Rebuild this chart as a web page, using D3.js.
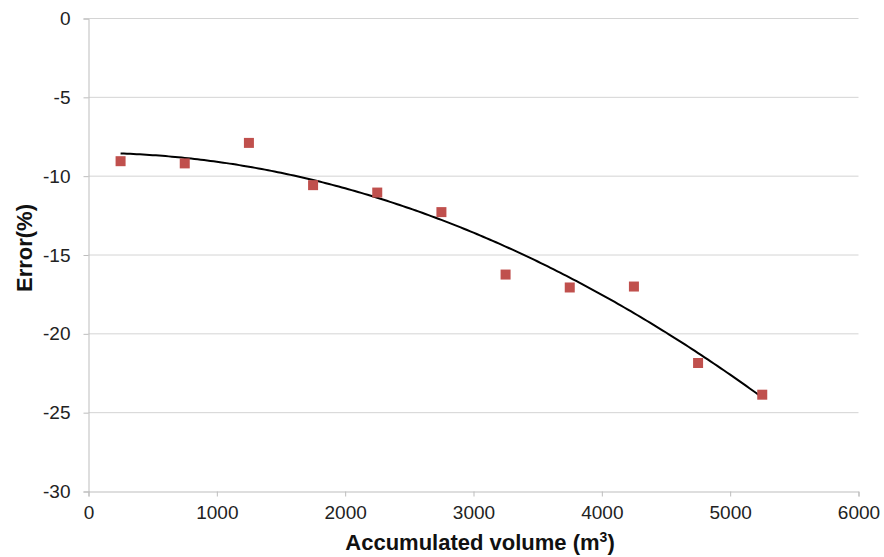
<!DOCTYPE html>
<html><head><meta charset="utf-8">
<script src="https://cdn.jsdelivr.net/npm/d3@7"></script>
<style>body{margin:0;background:#fff}svg{display:block}text{font-family:"Liberation Sans",Arial,sans-serif}</style>
</head><body>
<svg id="c" width="884" height="557"></svg>
<script>
const volume = [250, 750, 1250, 1750, 2250, 2750, 3250, 3750, 4250, 4750, 5250];
const errorPct = [-9.05, -9.19, -7.89, -10.57, -11.04, -12.28, -16.24, -17.06, -17.0, -21.85, -23.86];
const xTicks = [0, 1000, 2000, 3000, 4000, 5000, 6000];
const yTicks = [0, -5, -10, -15, -20, -25, -30];
const xTitle = "Accumulated volume (m";
const yTitle = "Error(%)";

const svg = d3.select("#c");
const x = d3.scaleLinear().domain([0, 6000]).range([88.5, 858.5]);
const y = d3.scaleLinear().domain([0, -30]).range([18.5, 491.5]);
const fmt = d => String(d);

// gridlines
svg.append("g").selectAll("line").data(yTicks.filter(d => d !== -30)).join("line")
  .attr("x1", x(0)).attr("x2", x(6000)).attr("y1", d => y(d)).attr("y2", d => y(d))
  .attr("stroke", "#d4d4d4").attr("stroke-width", 1);

// y axis
const ya = svg.append("g").attr("transform", `translate(${x(0)},0)`)
  .call(d3.axisLeft(y).tickValues(yTicks).tickSize(5).tickPadding(13).tickFormat(fmt));
ya.select(".domain").attr("stroke", "#bdbdbd");
ya.selectAll(".tick line").attr("stroke", "#bdbdbd");
ya.selectAll("text").attr("font-size", 19).attr("fill", "#222").style("font-family", "Liberation Sans, Arial, sans-serif");

// x axis
const xa = svg.append("g").attr("transform", `translate(0,${y(-30)})`)
  .call(d3.axisBottom(x).tickValues(xTicks).tickSize(5).tickPadding(9).tickFormat(fmt));
xa.select(".domain").attr("stroke", "#bdbdbd");
xa.selectAll(".tick line").attr("stroke", "#bdbdbd");
xa.selectAll("text").attr("font-size", 19).attr("fill", "#222").style("font-family", "Liberation Sans, Arial, sans-serif");

// quadratic least-squares trendline (as in the spreadsheet trendline)
function polyfit2(xs, ys) {
  let s = [0,0,0,0,0], t = [0,0,0];
  xs.forEach((xv, i) => {
    let p = 1;
    for (let k = 0; k < 5; k++) { s[k] += p; if (k < 3) t[k] += p * ys[i]; p *= xv; }
  });
  const A = [[s[0], s[1], s[2], t[0]], [s[1], s[2], s[3], t[1]], [s[2], s[3], s[4], t[2]]];
  for (let i = 0; i < 3; i++) {
    for (let j = i + 1; j < 3; j++) {
      const f = A[j][i] / A[i][i];
      for (let k = i; k < 4; k++) A[j][k] -= f * A[i][k];
    }
  }
  const c = [0, 0, 0];
  for (let i = 2; i >= 0; i--) {
    let v = A[i][3];
    for (let k = i + 1; k < 3; k++) v -= A[i][k] * c[k];
    c[i] = v / A[i][i];
  }
  return c;
}
const coef = polyfit2(volume, errorPct);
const fx = d3.range(volume[0], volume[volume.length - 1] + 1, 25);
svg.append("path")
  .datum(fx)
  .attr("fill", "none").attr("stroke", "#000").attr("stroke-width", 2)
  .attr("d", d3.line().x(d => x(d)).y(d => y(coef[0] + coef[1] * d + coef[2] * d * d)));

// markers
svg.append("g").selectAll("rect").data(volume).join("rect")
  .attr("x", d => x(d) - 5).attr("y", (d, i) => y(errorPct[i]) - 5)
  .attr("width", 10).attr("height", 10).attr("fill", "#c0504d");

// titles
const xt = svg.append("text").attr("x", 480).attr("y", 550).attr("text-anchor", "middle")
  .attr("font-size", 22).attr("font-weight", "bold").attr("fill", "#111");
xt.append("tspan").text(xTitle);
xt.append("tspan").attr("font-size", 14).attr("dy", -8).text("3");
xt.append("tspan").attr("dy", 8).text(")");

svg.append("text").attr("transform", "translate(32,248) rotate(-90)").attr("text-anchor", "middle")
  .attr("font-size", 22).attr("font-weight", "bold").attr("fill", "#111").text(yTitle);
</script>
</body></html>
